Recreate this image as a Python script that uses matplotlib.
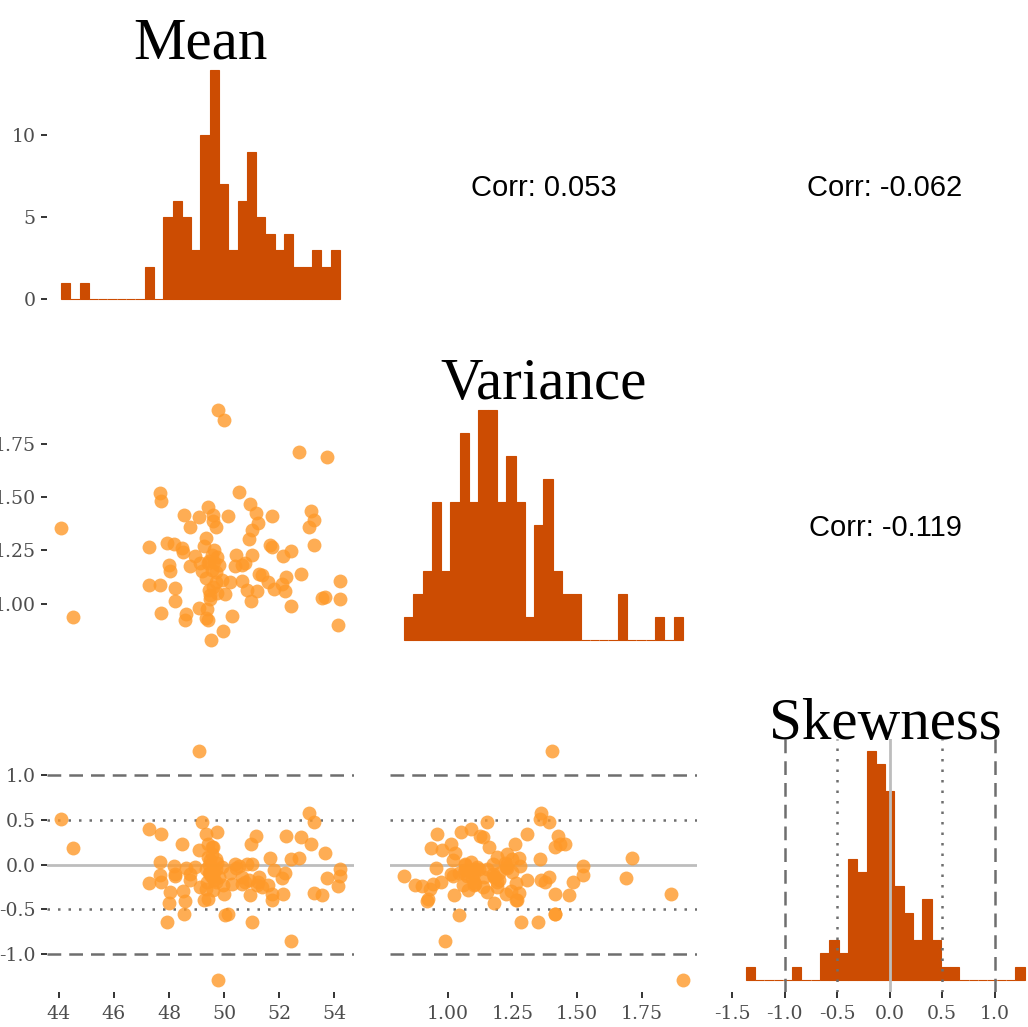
# Pairs plot of sample moments: histograms on the diagonal, scatter below, correlations above

import numpy as np
import matplotlib
matplotlib.use('Agg')
from matplotlib import pyplot as plt

# one row per simulated sample: mean, variance, skewness
mean_vals = [44.08, 44.53, 47.26, 47.26, 47.66, 47.67, 47.72, 47.72, 47.92, 48.00,
             48.03, 48.20, 48.23, 48.23, 48.46, 48.50, 48.56, 48.57, 48.63, 48.77,
             48.77, 48.96, 49.09, 49.09, 49.13, 49.20, 49.28, 49.33, 49.34, 49.37,
             49.40, 49.40, 49.42, 49.45, 49.49, 49.54, 49.55, 49.58, 49.60, 49.60,
             49.62, 49.69, 49.69, 49.74, 49.78, 49.80, 49.93, 49.95, 49.99, 50.05,
             50.15, 50.30, 50.41, 50.43, 50.54, 50.65, 50.65, 50.77, 50.84, 50.92,
             50.93, 50.96, 51.01, 51.03, 51.14, 51.19, 51.22, 51.28, 51.38, 51.60,
             51.68, 51.72, 51.75, 51.80, 52.11, 52.15, 52.21, 52.25, 52.43, 52.44,
             52.71, 52.80, 53.08, 53.17, 53.27, 53.27, 53.54, 53.66, 53.72, 54.12,
             54.20, 54.20, 49.45, 49.55, 49.70, 49.35, 49.65, 49.50, 49.75, 50.20]

var_vals = [1.355, 0.936, 1.089, 1.266, 1.522, 1.089, 1.483, 0.957, 1.285, 1.180,
            1.153, 1.281, 1.076, 1.011, 1.260, 1.245, 1.415, 0.922, 0.953, 1.360,
            1.176, 1.226, 1.405, 0.980, 1.191, 1.153, 1.269, 0.933, 1.308, 0.975,
            0.925, 1.191, 1.452, 1.066, 1.042, 0.831, 1.159, 1.078, 1.415, 1.390,
            1.198, 1.358, 1.151, 1.050, 1.909, 1.180, 1.113, 0.874, 1.863, 1.044,
            1.413, 0.943, 1.175, 1.230, 1.524, 1.105, 1.183, 1.191, 1.066, 1.305,
            1.469, 1.011, 1.230, 1.348, 1.428, 1.058, 1.378, 1.140, 1.136, 1.100,
            1.275, 1.413, 1.265, 1.068, 1.094, 1.226, 1.062, 1.125, 0.991, 1.248,
            1.711, 1.138, 1.362, 1.435, 1.392, 1.277, 1.025, 1.030, 1.690, 0.902,
            1.106, 1.022, 1.200, 1.230, 1.100, 1.120, 1.250, 1.020, 1.220, 1.100]

skew_vals = [0.507, 0.180, 0.399, -0.208, -0.120, 0.033, -0.195, 0.343, -0.643, -0.428,
             -0.307, -0.019, -0.131, -0.101, 0.226, -0.299, -0.549, -0.410, -0.038, -0.176,
             -0.101, -0.027, 1.272, 0.164, -0.250, 0.481, -0.392, -0.269, 0.339, -0.195,
             -0.389, 0.085, 0.235, -0.008, -0.100, -0.131, 0.197, -0.288, 0.200, -0.139,
             -0.176, 0.060, -0.050, 0.365, -1.296, -0.139, -0.027, -0.230, -0.333, -0.567,
             -0.549, -0.213, 0.011, -0.038, -0.020, -0.213, -0.139, -0.195, 0.011, -0.176,
             -0.344, 0.235, 0.011, -0.648, 0.315, -0.232, -0.200, -0.139, -0.250, -0.232,
             0.078, -0.325, -0.396, -0.064, -0.148, -0.333, -0.092, 0.314, -0.855, 0.059,
             0.076, 0.309, 0.580, 0.226, 0.472, -0.320, -0.336, 0.128, -0.150, -0.242,
             -0.045, -0.130, -0.100, 0.120, -0.200, -0.050, -0.080, 0.050, 0.020, -0.100]

# histogram counts (30 bins each) as read from the diagonal
mean_counts = [1, 0, 1, 0, 0, 0, 0, 0, 0, 2, 0, 5, 6, 5, 3, 10, 14, 7, 3, 6,
               9, 5, 4, 3, 4, 2, 2, 3, 2, 3]
var_counts = [1, 2, 3, 6, 3, 6, 9, 6, 10, 10, 6, 8, 6, 1, 5, 7, 3, 2, 2, 0,
              0, 0, 0, 2, 0, 0, 0, 1, 0, 1]
skew_counts = [1, 0, 0, 0, 0, 1, 0, 0, 2, 3, 2, 9, 8, 17, 16, 14, 7, 5, 3, 6,
               3, 1, 1, 0, 0, 0, 0, 0, 0, 1]

corr_vals = [0.053, -0.062, -0.119]   # (mean,var), (mean,skew), (var,skew)
names = ['Mean', 'Variance', 'Skewness']

mean_ticks = [44, 46, 48, 50, 52, 54]
var_ticks = [1.00, 1.25, 1.50, 1.75]
skew_yticks = [-1.0, -0.5, 0.0, 0.5, 1.0]
skew_xticks = [-1.5, -1.0, -0.5, 0.0, 0.5, 1.0]
count_ticks = [0, 5, 10]

FILL = '#cc4c02'
POINT = '#fe9929'

plt.rcParams['font.family'] = ['Liberation Serif', 'DejaVu Serif']
plt.rcParams['axes.unicode_minus'] = False

W, H = 1028, 1027
col_x = [47, 390, 731.7]
row_y = [58.2, 398.6, 739.3]
pw, ph = 306.8, 252.6


def gg_range(lo, hi):
  pad = 0.05 * (hi - lo)
  return lo - pad, hi + pad


def gg_edges(x, bins=30):
  lo, hi = min(x), max(x)
  w = (hi - lo) / (bins - 1)
  origin = w / 2 + np.floor((lo - w / 2) / w) * w
  return origin + w * np.arange(bins + 1)


def panel(fig, r, c):
  ax = fig.add_axes([col_x[c] / W, 1 - (row_y[r] + ph) / H, pw / W, ph / H])
  for s in ax.spines.values():
    s.set_visible(False)
  ax.set_xticks([])
  ax.set_yticks([])
  ax.tick_params(length=4.3, width=1.4, color='#333333', labelcolor='#4d4d4d',
                 labelsize=13.6, pad=4)
  return ax


def ref_lines(ax, vertical):
  draw = ax.axvline if vertical else ax.axhline
  draw(0, color='#bdbdbd', lw=2.0, zorder=3)
  for v in (-0.5, 0.5):
    draw(v, color='#6e6e6e', lw=1.8, ls=(0, (1, 3.2)), zorder=3)
  for v in (-1, 1):
    draw(v, color='#6e6e6e', lw=1.8, ls=(0, (5.5, 3.2)), zorder=3)


def tick_font(ax):
  for lab in ax.get_xticklabels() + ax.get_yticklabels():
    lab.set_family(['DejaVu Serif'])


data = [mean_vals, var_vals, skew_vals]
counts = [mean_counts, var_counts, skew_counts]

fig = plt.figure(figsize=(W / 100, H / 100), dpi=100)

axes = {}
for r in range(3):
  for c in range(3):
    ax = panel(fig, r, c)
    axes[(r, c)] = ax
    if r == c:
      edges = gg_edges(data[r])
      ax.bar(edges[:-1], counts[r], width=np.diff(edges), align='edge',
             color=FILL, edgecolor=FILL, lw=0.8, zorder=2)
      ax.set_xlim(*gg_range(edges[0], edges[-1]))
      ax.set_ylim(*gg_range(0, max(counts[r])))
      ax.text(0.5, 1.0, names[r], transform=ax.transAxes, ha='center',
              va='baseline', fontsize=42.5, color='black', zorder=5)
      if r == 2:
        ref_lines(ax, vertical=True)
    elif r > c:
      if r == 2:
        ref_lines(ax, vertical=False)
      ax.scatter(data[c], data[r], s=100, color=POINT, alpha=0.8,
                 linewidths=0, zorder=4)
      ax.set_xlim(*gg_range(min(data[c]), max(data[c])))
      ax.set_ylim(*gg_range(min(data[r]), max(data[r])))
    else:
      k = r + c - 1
      ax.set_xlim(0, 1)
      ax.set_ylim(0, 1)
      ax.text(0.5, 0.488, f'Corr: {corr_vals[k]:.3f}', ha='center', va='center',
              fontsize=21, family=['Liberation Sans', 'DejaVu Sans'], color='black')

# left axis labels
axes[(0, 0)].set_yticks(count_ticks)
axes[(1, 0)].set_yticks(var_ticks)
axes[(1, 0)].set_yticklabels([f'{t:.2f}' for t in var_ticks])
axes[(2, 0)].set_yticks(skew_yticks)
axes[(2, 0)].set_yticklabels([f'{t:.1f}' for t in skew_yticks])

# bottom axis labels
axes[(2, 0)].set_xticks(mean_ticks)
axes[(2, 1)].set_xticks(var_ticks)
axes[(2, 1)].set_xticklabels([f'{t:.2f}' for t in var_ticks])
axes[(2, 2)].set_xticks(skew_xticks)
axes[(2, 2)].set_xticklabels([f'{t:.1f}' for t in skew_xticks])
for c in range(3):
  axes[(2, c)].tick_params(axis='x', pad=5)

for ax in axes.values():
  tick_font(ax)

fig.savefig('out.png', dpi=100)
